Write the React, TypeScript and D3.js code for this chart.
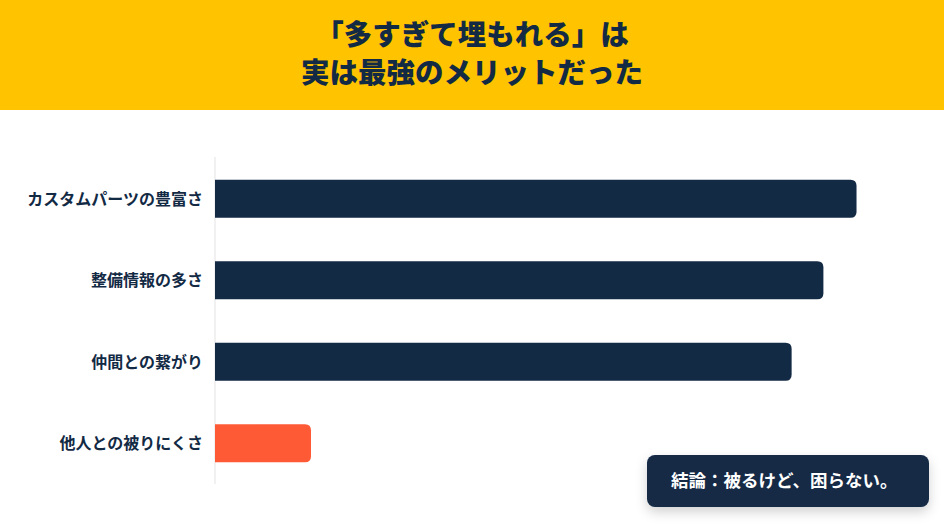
import { useEffect, useRef } from "react";
import * as d3 from "d3";

const categories = ["カスタムパーツの豊富さ", "整備情報の多さ", "仲間との繋がり", "他人との被りにくさ"];
const values = [94.9, 90, 85.3, 14.2];
const highlight = [false, false, false, true];
const titleLines = ["「多すぎて埋もれる」は", "実は最強のメリットだった"];
const calloutText = "結論：被るけど、困らない。";

const W = 944;
const H = 530;
const NAVY = "#132a45";
const ORANGE = "#ff5a36";
const YELLOW = "#ffc300";
const FONT = "'Noto Sans CJK JP', 'Noto Sans', sans-serif";

export default function App() {
    const svgRef = useRef<SVGSVGElement>(null);

    useEffect(() => {
        if (!svgRef.current) return;
        const svg = d3.select(svgRef.current);
        svg.selectAll("*").remove();

        // shadow for the callout
        const defs = svg.append("defs");
        const f = defs.append("filter").attr("id", "shadow").attr("x", "-20%").attr("y", "-30%").attr("width", "140%").attr("height", "190%");
        f.append("feDropShadow").attr("dx", 0).attr("dy", 5).attr("stdDeviation", 6).attr("flood-color", "#000").attr("flood-opacity", 0.18);

        // header band
        svg.append("rect").attr("x", 0).attr("y", 0).attr("width", W).attr("height", 110).attr("fill", YELLOW);
        svg.append("g")
            .selectAll("text")
            .data(titleLines)
            .join("text")
            .attr("x", W / 2)
            .attr("y", (_, i) => 34.5 + i * 38)
            .attr("dy", "0.36em")
            .attr("text-anchor", "middle")
            .style("font-family", FONT)
            .style("font-size", "28.5px")
            .style("font-weight", 900)
            .style("fill", NAVY)
            .text(d => d);

        const x = d3.scaleLinear().domain([0, 100]).range([215, 891]);
        const y = d3.scaleBand<string>().domain(categories).range([158, 484]).paddingInner(0.534).paddingOuter(0.267);

        // baseline
        svg.append("line")
            .attr("x1", x(0)).attr("x2", x(0))
            .attr("y1", 157).attr("y2", 484)
            .attr("stroke", "#e3e3e3").attr("stroke-width", 1);

        // bars: square left end, rounded right end
        const r = 6;
        const barPath = (v: number, cat: string) => {
            const x0 = x(0), x1 = x(v);
            const y0 = y(cat)!, h = y.bandwidth();
            return `M${x0},${y0}H${x1 - r}Q${x1},${y0} ${x1},${y0 + r}V${y0 + h - r}Q${x1},${y0 + h} ${x1 - r},${y0 + h}H${x0}Z`;
        };
        svg.append("g")
            .selectAll("path")
            .data(values)
            .join("path")
            .attr("d", (v, i) => barPath(v, categories[i]))
            .attr("fill", (_, i) => (highlight[i] ? ORANGE : NAVY));

        // category labels
        svg.append("g")
            .selectAll("text")
            .data(categories)
            .join("text")
            .attr("x", 203)
            .attr("y", d => y(d)! + y.bandwidth() / 2)
            .attr("dy", "0.36em")
            .attr("text-anchor", "end")
            .style("font-family", FONT)
            .style("font-size", "16px")
            .style("font-weight", 700)
            .style("fill", NAVY)
            .text(d => d);

        // callout
        const cg = svg.append("g");
        cg.append("rect")
            .attr("x", 647).attr("y", 455).attr("width", 282).attr("height", 52)
            .attr("rx", 8)
            .attr("fill", NAVY)
            .attr("filter", "url(#shadow)");
        cg.append("text")
            .attr("x", 671).attr("y", 481)
            .attr("dy", "0.36em")
            .style("font-family", FONT)
            .style("font-size", "17.5px")
            .style("font-weight", 700)
            .style("fill", "#ffffff")
            .text(calloutText);
    }, []);

    return (
        <svg
            ref={svgRef}
            width={W}
            height={H}
            viewBox={`0 0 ${W} ${H}`}
            style={{ position: "absolute", left: 0, top: 0, background: "#fff" }}
        />
    );
}
